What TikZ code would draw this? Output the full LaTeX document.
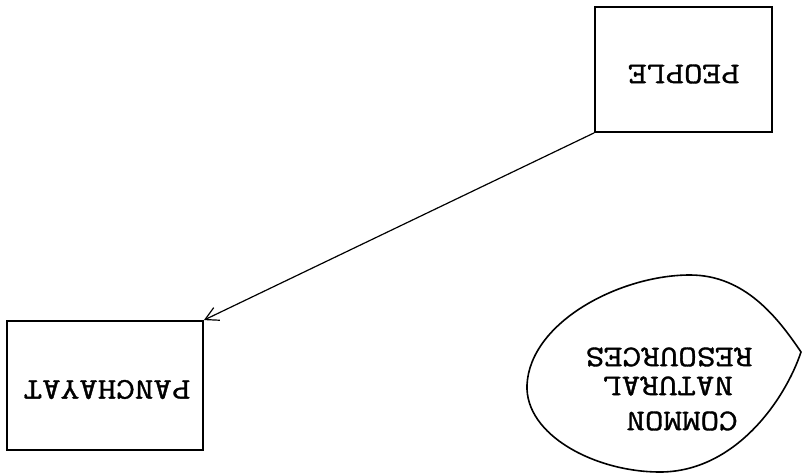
\documentclass[tikz,border=0pt]{standalone}
\usepackage{fontspec}
\setmonofont[FakeStretch=1.2,FakeBold=1.2]{Latin Modern Mono}
\usetikzlibrary{arrows.meta}
\begin{document}
\begin{tikzpicture}[x=1pt,y=-1pt,
  boxnode/.style={draw,line width=1.8pt,inner sep=0pt},
  lbl/.style={rotate=180,inner sep=0pt,font=\ttfamily\fontsize{30}{32}\selectfont},
  link/.style={line width=1.2pt,-{Straight Barb[length=13pt,width=14pt,line width=1.2pt]}}]
\useasboundingbox (0,0) rectangle (803,476);
\node[boxnode,minimum width=177pt,minimum height=125pt] (people) at (683.5,69.5) {};
\node[lbl] (tpeople) at (684,74) {PEOPLE};
\node[boxnode,minimum width=196pt,minimum height=129pt] (panch) at (105,385.5) {};
\node[lbl] (tpanch) at (107,389.5) {PANCHAYAT};
\coordinate (R) at (801,352);
\coordinate (T) at (690,275);
\coordinate (L) at (527,385);
\coordinate (B) at (660,472);
\draw[line width=1.6pt] (R) .. controls (778,318) and (745,275) .. (T)
  .. controls (620,275) and (530,322) .. (L)
  .. controls (525,435) and (595,472) .. (B)
  .. controls (735,472) and (785,400) .. (R) -- cycle;
\node[lbl] (t3) at (669,357) {RESOURCES};
\node[lbl] (t2) at (668,386) {NATURAL};
\node[lbl] (t1) at (682,421) {COMMON};
\draw[link] (people.south west) -- (panch.north east);
\end{tikzpicture}
\end{document}
